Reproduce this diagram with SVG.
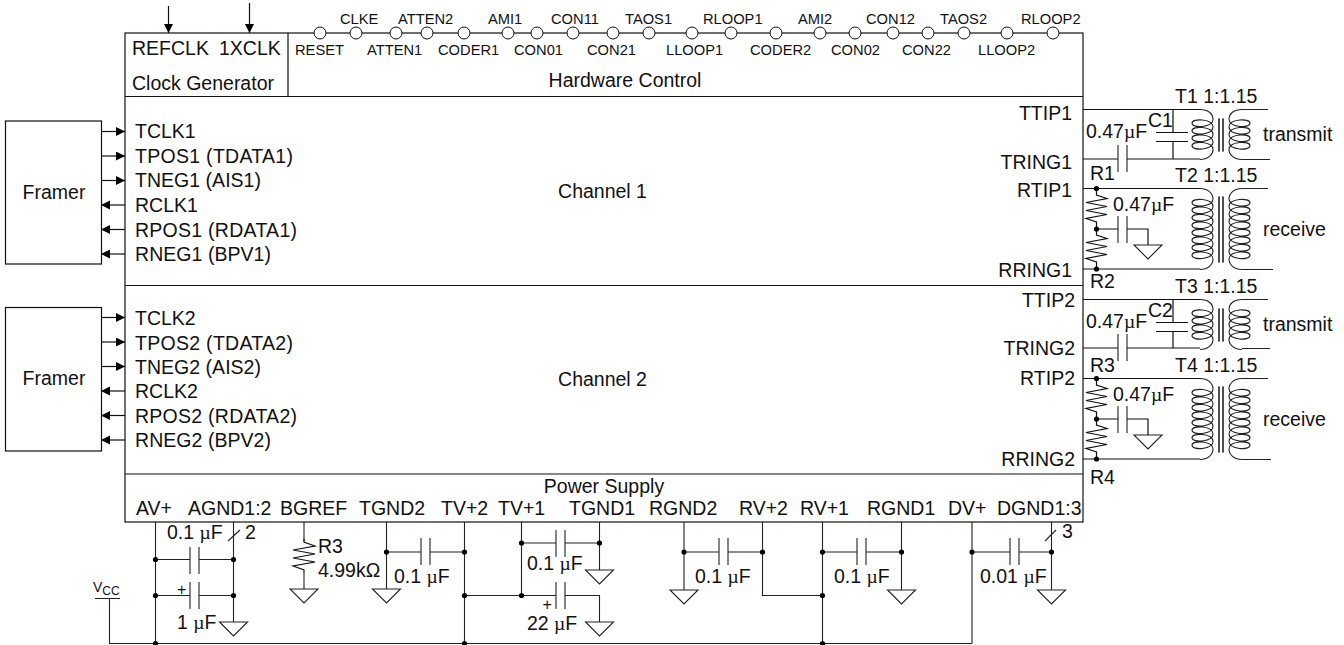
<svg xmlns="http://www.w3.org/2000/svg" width="1344" height="645" viewBox="0 0 1344 645">
<style>
text{font-family:"Liberation Sans",Arial,sans-serif;font-size:19.5px;fill:#111}
.s{font-size:14.7px}
.m{text-anchor:middle}
.e{text-anchor:end}
.p{font-size:16px}
.u{font-family:"Liberation Serif",serif}
.l{fill:none;stroke:#111;stroke-width:1.2}
.b{fill:#fff;stroke:#111;stroke-width:1.2}
.g{fill:none;stroke:#222;stroke-width:1.1}
.pin{fill:#fff;stroke:#111;stroke-width:1}
.d{fill:#000}
.c{fill:none;stroke:#222;stroke-width:1.1}
</style>
<defs>
<marker id="ah" markerUnits="userSpaceOnUse" markerWidth="10" markerHeight="10" refX="9" refY="4.5" orient="auto"><path d="M0,0L9,4.5L0,9Z" fill="#000"/></marker>
<path id="gnd" class="g" d="M-14,0H14L0,14Z"/>
<path id="cap" class="c" d="M0,0V27M9,0V27"/>
<path id="res" class="l" d="M0,0V3L11,7L-11,11L11,15L-11,19L11,23L-11,27L0,31V34"/>
<path id="resL" class="l" d="M0,0V6L10.5,9.5L-10.5,13.5L10.5,17.5L-10.5,21.5L10.5,25.5L-10.5,29.5L0,33V40"/>
<path id="coilS" class="c" d="M-21,0C-13,0 -8,4 -8,10c0,8 -21,9.25 -21,3.75c0,-5.5 21,-4.25 21,3.75c0,8 -21,9.25 -21,3.75c0,-5.5 21,-4.25 21,3.75c0,8 -21,9.25 -21,3.75c0,-5.5 21,-4.25 21,3.75c0,8 -21,9.25 -21,3.75c0,-5.5 21,-4.25 21,3.75C-8,45 -13,50 -21,50M-2,9V42M2,9V42"/>
<path id="coilL" class="c" d="M-21,0C-13,0 -8,5 -8,10.5c0,8 -21,9.25 -21,3.75c0,-5.5 21,-4.25 21,3.75c0,8 -21,9.25 -21,3.75c0,-5.5 21,-4.25 21,3.75c0,8 -21,9.25 -21,3.75c0,-5.5 21,-4.25 21,3.75c0,8 -21,9.25 -21,3.75c0,-5.5 21,-4.25 21,3.75c0,8 -21,9.25 -21,3.75c0,-5.5 21,-4.25 21,3.75c0,8 -21,9.25 -21,3.75c0,-5.5 21,-4.25 21,3.75c0,8 -21,9.25 -21,3.75c0,-5.5 21,-4.25 21,3.75c0,8 -21,9.25 -21,3.75c0,-5.5 21,-4.25 21,3.75C-8,76 -13,81 -21,81M-2,8V74M2,8V74"/>
</defs>
<rect width="1344" height="645" fill="#fff"/>

<g id="connectors">
<path class="l" marker-end="url(#ah)" d="M168.5,6V33"/>
<path class="l" marker-end="url(#ah)" d="M249.5,3V33"/>
<path class="l" marker-end="url(#ah)" d="M101,131.5H125"/>
<path class="l" marker-end="url(#ah)" d="M101,156H125"/>
<path class="l" marker-end="url(#ah)" d="M101,180.5H125"/>
<path class="l" marker-end="url(#ah)" d="M125,205H101"/>
<path class="l" marker-end="url(#ah)" d="M125,229.5H101"/>
<path class="l" marker-end="url(#ah)" d="M125,254H101"/>
<path class="l" marker-end="url(#ah)" d="M101,317.5H125"/>
<path class="l" marker-end="url(#ah)" d="M101,342H125"/>
<path class="l" marker-end="url(#ah)" d="M101,366.5H125"/>
<path class="l" marker-end="url(#ah)" d="M125,391H101"/>
<path class="l" marker-end="url(#ah)" d="M125,415.5H101"/>
<path class="l" marker-end="url(#ah)" d="M125,440H101"/>
<path class="l" d="M1083,109.5H1200M1083,159H1118M1127,159H1200M1083,188.5H1200M1083,269H1200M1173,109.5V132M1173,141V159M1156,132.5H1188M1156,141.5H1188M1096.5,229H1118M1127,229H1148V245"/>
<path class="l" d="M1083,299.5H1200M1083,348H1118M1127,348H1200M1083,378.5H1200M1083,459H1200M1173,299.5V322M1173,331V348M1156,322.5H1188M1156,331.5H1188M1096.5,419H1118M1127,419H1148V435"/>
<path class="g" d="M155.5,522V643.5M233.5,522V622M155.5,559.5H190M199,559.5H233.5M155.5,595.5H190M199,595.5H233.5M304,522V541M304,573V589M386.5,522V589M386.5,552H421M430,552H464.5M464.5,522V643.5M521.5,522V595M521.5,543H556M565,543H599.5M599.5,522V570M464.5,595.5H556M565,595.5H599.5V622M684,522V590M684,552H719M728,552H762.5M762.5,522V595.5H822.5M822.5,522V643.5M822.5,552H857M866,552H901.5M901.5,522V590M972,522V643.5M972,552H1010M1019,552H1051.5M1051.5,522V590M109.5,598V643.5H972M95,598.5H120M228,541L240,530M1045,541L1056,530"/>
</g>

<g id="chip">
<rect class="b" x="125" y="33" width="958" height="489"/>
<path class="l" d="M125,96.5H1083M125,285.5H1083M125,474H1083M288,33V96.5"/>
</g>

<g id="clock-generator">
<text x="132" y="55">REFCLK</text><text x="219" y="55">1XCLK</text>
<text x="132" y="90">Clock Generator</text>
</g>

<g id="hardware-control">
<circle class="pin" cx="320" cy="33" r="6"/><circle class="pin" cx="356" cy="33" r="6"/><circle class="pin" cx="396" cy="33" r="6"/><circle class="pin" cx="427" cy="33" r="6"/><circle class="pin" cx="464" cy="33" r="6"/><circle class="pin" cx="508" cy="33" r="6"/><circle class="pin" cx="537" cy="33" r="6"/><circle class="pin" cx="573" cy="33" r="6"/><circle class="pin" cx="613" cy="33" r="6"/><circle class="pin" cx="649" cy="33" r="6"/><circle class="pin" cx="692" cy="33" r="6"/><circle class="pin" cx="731" cy="33" r="6"/><circle class="pin" cx="776" cy="33" r="6"/><circle class="pin" cx="820" cy="33" r="6"/><circle class="pin" cx="855" cy="33" r="6"/><circle class="pin" cx="893" cy="33" r="6"/><circle class="pin" cx="928" cy="33" r="6"/><circle class="pin" cx="964" cy="33" r="6"/><circle class="pin" cx="1007" cy="33" r="6"/><circle class="pin" cx="1053" cy="33" r="6"/>
<text class="s" x="340" y="24">CLKE</text><text class="s" x="398" y="24">ATTEN2</text><text class="s" x="488" y="24">AMI1</text><text class="s" x="551" y="24">CON11</text><text class="s" x="625" y="24">TAOS1</text><text class="s" x="703" y="24">RLOOP1</text><text class="s" x="798" y="24">AMI2</text><text class="s" x="866" y="24">CON12</text><text class="s" x="940" y="24">TAOS2</text><text class="s" x="1021" y="24">RLOOP2</text>
<text class="s" x="295" y="55">RESET</text><text class="s" x="367" y="55">ATTEN1</text><text class="s" x="438" y="55">CODER1</text><text class="s" x="514" y="55">CON01</text><text class="s" x="587" y="55">CON21</text><text class="s" x="666" y="55">LLOOP1</text><text class="s" x="750" y="55">CODER2</text><text class="s" x="831" y="55">CON02</text><text class="s" x="902" y="55">CON22</text><text class="s" x="978" y="55">LLOOP2</text>
<text class="m" x="625" y="87">Hardware Control</text>
</g>

<g id="channel-1">
<text x="135" y="138">TCLK1</text><text x="135" y="163" textLength="158">TPOS1 (TDATA1)</text><text x="135" y="187" textLength="126">TNEG1 (AIS1)</text><text x="135" y="212">RCLK1</text><text x="135" y="237" textLength="162">RPOS1 (RDATA1)</text><text x="135" y="261" textLength="136">RNEG1 (BPV1)</text>
<text class="m" x="602.5" y="198">Channel 1</text>
<text class="e" x="1072" y="120">TTIP1</text><text class="e" x="1072" y="169">TRING1</text><text class="e" x="1072" y="197">RTIP1</text><text class="e" x="1072" y="277">RRING1</text>
</g>

<g id="channel-2">
<text x="135" y="325">TCLK2</text><text x="135" y="350" textLength="158">TPOS2 (TDATA2)</text><text x="135" y="374" textLength="126">TNEG2 (AIS2)</text><text x="135" y="398">RCLK2</text><text x="135" y="423" textLength="162">RPOS2 (RDATA2)</text><text x="135" y="447" textLength="136">RNEG2 (BPV2)</text>
<text class="m" x="602.5" y="386">Channel 2</text>
<text class="e" x="1075" y="307">TTIP2</text><text class="e" x="1075" y="355">TRING2</text><text class="e" x="1075" y="385">RTIP2</text><text class="e" x="1075" y="466">RRING2</text>
</g>

<g id="power-supply">
<text class="m" x="604" y="493">Power Supply</text>
<text x="136" y="515">AV+</text><text x="188" y="515">AGND1:2</text><text x="280" y="515">BGREF</text><text x="359" y="515">TGND2</text><text x="441" y="515">TV+2</text><text x="498" y="515">TV+1</text><text x="569" y="515">TGND1</text><text x="649" y="515">RGND2</text><text x="739" y="515">RV+2</text><text x="800" y="515">RV+1</text><text x="867" y="515">RGND1</text><text x="948" y="515">DV+</text><text x="997" y="515">DGND1:3</text>
</g>

<g id="framer-1"><rect class="b" x="5.5" y="121" width="96" height="143"/><text class="m" x="54" y="199">Framer</text></g>
<g id="framer-2"><rect class="b" x="5.5" y="307.5" width="96" height="143.5"/><text class="m" x="54" y="385">Framer</text></g>

<g id="T1" transform="translate(1221,109.5)"><use href="#coilS"/><use href="#coilS" transform="scale(-1,1)"/><path class="c" d="M21,0H47M21,50H49"/></g>
<text x="1175" y="103">T1 1:1.15</text><text x="1263" y="141">transmit</text>
<g id="T2" transform="translate(1221,188.5)"><use href="#coilL"/><use href="#coilL" transform="scale(-1,1)"/><path class="c" d="M21,0H47M21,81H52"/></g>
<text x="1175" y="182">T2 1:1.15</text><text x="1263" y="236">receive</text>
<g id="T3" transform="translate(1221,299.5)"><use href="#coilS"/><use href="#coilS" transform="scale(-1,1)"/><path class="c" d="M21,0H47M21,49H49"/></g>
<text x="1175" y="293">T3 1:1.15</text><text x="1263" y="331">transmit</text>
<g id="T4" transform="translate(1221,378.5)"><use href="#coilL"/><use href="#coilL" transform="scale(-1,1)"/><path class="c" d="M21,0H47M21,81H50"/></g>
<text x="1175" y="372">T4 1:1.15</text><text x="1263" y="426">receive</text>

<g id="line-parts-1">
<use href="#cap" x="1118" y="145"/><use href="#cap" x="1118" y="216"/>
<use href="#resL" x="1096.5" y="189"/><use href="#resL" x="1096.5" y="229"/>
<use href="#gnd" x="1148" y="245"/>
<circle class="d" cx="1096.5" cy="188.5" r="2.6"/><circle class="d" cx="1096.5" cy="229" r="2.6"/><circle class="d" cx="1096.5" cy="269" r="2.6"/>
<text x="1086" y="138">0.47<tspan class="u">µ</tspan>F</text><text x="1148" y="127">C1</text><text x="1113" y="211">0.47<tspan class="u">µ</tspan>F</text><text x="1090" y="180">R1</text><text x="1090" y="288">R2</text>
</g>
<g id="line-parts-2">
<use href="#cap" x="1118" y="334"/><use href="#cap" x="1118" y="406"/>
<use href="#resL" x="1096.5" y="379"/><use href="#resL" x="1096.5" y="419"/>
<use href="#gnd" x="1148" y="435"/>
<circle class="d" cx="1096.5" cy="378.5" r="2.6"/><circle class="d" cx="1096.5" cy="419" r="2.6"/><circle class="d" cx="1096.5" cy="459" r="2.6"/>
<text x="1086" y="328">0.47<tspan class="u">µ</tspan>F</text><text x="1148" y="317">C2</text><text x="1113" y="401">0.47<tspan class="u">µ</tspan>F</text><text x="1090" y="372">R3</text><text x="1090" y="484">R4</text>
</g>

<g id="supply-parts">
<use href="#cap" x="190" y="547"/><use href="#cap" x="190" y="582"/><use href="#gnd" x="233.5" y="622"/>
<use href="#res" x="304" y="539"/><use href="#gnd" x="304" y="589"/>
<use href="#gnd" x="386.5" y="589"/><use href="#cap" x="421" y="538"/>
<use href="#cap" x="556" y="530"/><use href="#cap" x="556" y="582"/><use href="#gnd" x="599.5" y="570"/><use href="#gnd" x="599.5" y="622"/>
<use href="#gnd" x="684" y="590"/><use href="#cap" x="719" y="538"/>
<use href="#cap" x="857" y="538"/><use href="#gnd" x="901.5" y="590"/>
<use href="#cap" x="1010" y="538"/><use href="#gnd" x="1051.5" y="590"/>
<circle class="d" cx="155.5" cy="559.5" r="2.6"/><circle class="d" cx="233.5" cy="559.5" r="2.6"/><circle class="d" cx="155.5" cy="595.5" r="2.6"/><circle class="d" cx="233.5" cy="595.5" r="2.6"/><circle class="d" cx="155.5" cy="643.5" r="2.6"/>
<circle class="d" cx="386.5" cy="552" r="2.6"/><circle class="d" cx="464.5" cy="552" r="2.6"/><circle class="d" cx="464.5" cy="595.5" r="2.6"/><circle class="d" cx="464.5" cy="643.5" r="2.6"/>
<circle class="d" cx="521.5" cy="543" r="2.6"/><circle class="d" cx="599.5" cy="543" r="2.6"/><circle class="d" cx="521.5" cy="595.5" r="2.6"/>
<circle class="d" cx="684" cy="552" r="2.6"/><circle class="d" cx="762.5" cy="552" r="2.6"/><circle class="d" cx="822.5" cy="552" r="2.6"/><circle class="d" cx="901.5" cy="552" r="2.6"/><circle class="d" cx="822.5" cy="595.5" r="2.6"/><circle class="d" cx="822.5" cy="643.5" r="2.6"/>
<circle class="d" cx="972" cy="552" r="2.6"/><circle class="d" cx="1051.5" cy="552" r="2.6"/>
<text x="167" y="539">0.1 <tspan class="u">µ</tspan>F</text><text x="245" y="539">2</text><text class="p" x="177" y="594.5">+</text><text x="177" y="629">1 <tspan class="u">µ</tspan>F</text>
<text x="318" y="553">R3</text><text x="318" y="577">4.99kΩ</text>
<text x="394" y="583">0.1 <tspan class="u">µ</tspan>F</text>
<text x="527" y="570">0.1 <tspan class="u">µ</tspan>F</text><text class="p" x="542.5" y="609.5">+</text><text x="527" y="630">22 <tspan class="u">µ</tspan>F</text>
<text x="695" y="583">0.1 <tspan class="u">µ</tspan>F</text><text x="834" y="583">0.1 <tspan class="u">µ</tspan>F</text><text x="980" y="583">0.01 <tspan class="u">µ</tspan>F</text><text x="1062" y="538">3</text>
<text x="93" y="592" style="font-size:14px">V<tspan dy="3" style="font-size:12px">CC</tspan></text>
</g>
</svg>
